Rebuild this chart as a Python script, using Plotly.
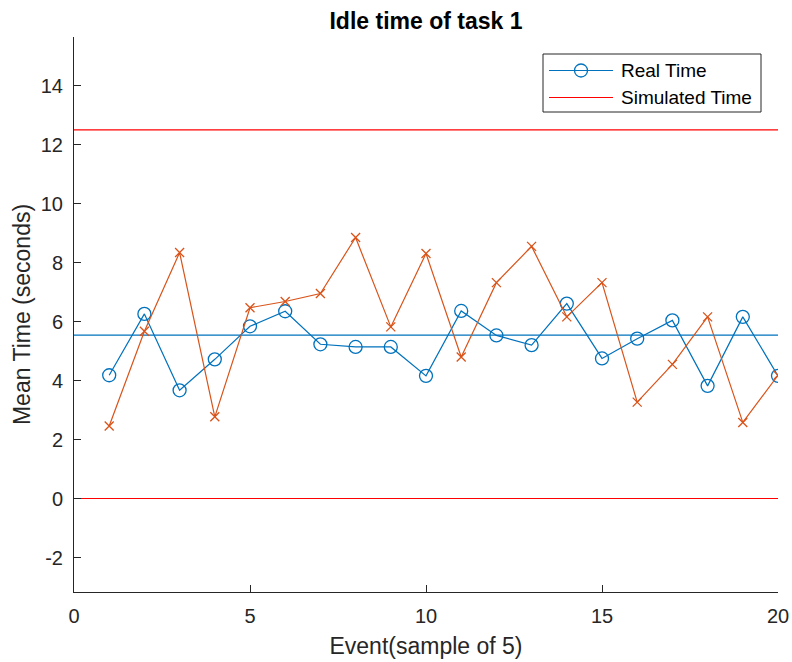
import plotly.graph_objects as go

# Event index (each event is a sample of 5)
events = list(range(1, 21))

# Mean idle time per event, measured
real_time = [4.18, 6.26, 3.67, 4.72, 5.84, 6.35, 5.23, 5.14, 5.14, 4.16,
             6.36, 5.53, 5.20, 6.61, 4.75, 5.42, 6.04, 3.82, 6.16, 4.16]

# Mean idle time per event, simulated
simulated_time = [2.46, 5.67, 8.34, 2.77, 6.47, 6.68, 6.95, 8.85, 5.82, 8.31,
                  4.80, 7.32, 8.55, 6.16, 7.32, 3.27, 4.55, 6.16, 2.58, 4.18]

# Reference lines across the whole event span
x_span = [0, 20]
center_line = 5.54
upper_limit = 12.5
lower_limit = 0.0

x_ticks = [0, 5, 10, 15, 20]
y_ticks = [-2, 0, 2, 4, 6, 8, 10, 12, 14]

legend_labels = ["Real Time", "Simulated Time"]

BLUE = "#0072BD"
ORANGE = "#D95319"
RED = "#FF0000"
AXIS = "#262626"
FONT = "Liberation Sans, Arial, sans-serif"

# Plot area in pixels (fixed margins)
W, H = 792, 662
ML, MR, MT, MB = 74, 14, 37, 70
PW, PH = W - ML - MR, H - MT - MB


def px_to_paper_x(px):
    return (px - ML) / PW


def px_to_paper_y(py):
    return (H - MB - py) / PH


fig = go.Figure()

fig.add_trace(go.Scatter(
    x=events, y=real_time, mode="lines+markers", name=legend_labels[0],
    showlegend=False,
    line=dict(color=BLUE, width=1.2),
    marker=dict(symbol="circle-open", size=13, color=BLUE, line=dict(width=1.3)),
))

fig.add_trace(go.Scatter(
    x=x_span, y=[center_line, center_line], mode="lines", showlegend=False,
    line=dict(color=BLUE, width=1.2),
))

fig.add_trace(go.Scatter(
    x=events, y=simulated_time, mode="lines+markers", showlegend=False,
    line=dict(color=ORANGE, width=1.2),
    marker=dict(symbol="x-thin-open", size=9, color=ORANGE, line=dict(width=1.3, color=ORANGE)),
))

fig.add_trace(go.Scatter(
    x=x_span + [None] + x_span,
    y=[upper_limit, upper_limit, None, lower_limit, lower_limit],
    mode="lines", name=legend_labels[1], showlegend=False,
    line=dict(color=RED, width=1.2),
))

# Legend box drawn in the upper right corner of the axes
box_l, box_r, box_t, box_b = 543, 761, 54, 112
row_y = [70.5, 97.5]
line_l, line_r = 549, 613
text_x = 619

shapes = [
    dict(type="rect", xref="paper", yref="paper",
         x0=px_to_paper_x(box_l), x1=px_to_paper_x(box_r),
         y0=px_to_paper_y(box_b), y1=px_to_paper_y(box_t),
         line=dict(color=AXIS, width=1), fillcolor="white", layer="above"),
    dict(type="line", xref="paper", yref="paper",
         x0=px_to_paper_x(line_l), x1=px_to_paper_x(line_r),
         y0=px_to_paper_y(row_y[0]), y1=px_to_paper_y(row_y[0]),
         line=dict(color=BLUE, width=1.2), layer="above"),
    dict(type="circle", xref="paper", yref="paper",
         xsizemode="pixel", ysizemode="pixel",
         xanchor=px_to_paper_x((line_l + line_r) / 2),
         yanchor=px_to_paper_y(row_y[0]),
         x0=-6.5, x1=6.5, y0=-6.5, y1=6.5,
         line=dict(color=BLUE, width=1.3), fillcolor="rgba(0,0,0,0)", layer="above"),
    dict(type="line", xref="paper", yref="paper",
         x0=px_to_paper_x(line_l), x1=px_to_paper_x(line_r),
         y0=px_to_paper_y(row_y[1]), y1=px_to_paper_y(row_y[1]),
         line=dict(color=RED, width=1.2), layer="above"),
]

annotations = [
    dict(text=label, xref="paper", yref="paper",
         x=px_to_paper_x(text_x), y=px_to_paper_y(ry),
         xanchor="left", yanchor="middle", showarrow=False,
         font=dict(size=19, color="black", family=FONT))
    for label, ry in zip(legend_labels, row_y)
]

fig.update_layout(
    width=W, height=H,
    margin=dict(l=ML, r=MR, t=MT, b=MB),
    paper_bgcolor="white", plot_bgcolor="white",
    font=dict(family=FONT, color=AXIS),
    showlegend=False,
    title=dict(
        text="Idle time of task 1",
        font=dict(size=23, weight="bold", color="black", family=FONT),
        x=(ML + W - MR) / 2 / W, xanchor="center",
        y=1 - 21 / H, yanchor="middle",
    ),
    shapes=shapes,
    annotations=annotations,
)

fig.update_xaxes(
    range=[0, 20], tickvals=x_ticks, ticktext=[str(v) for v in x_ticks],
    showgrid=False, zeroline=False, automargin=False,
    showline=True, linecolor=AXIS, linewidth=1,
    ticks="inside", ticklen=7, tickcolor=AXIS, tickwidth=1,
    tickfont=dict(size=20, color=AXIS),
    ticklabelstandoff=6,
    title=dict(text="Event(sample of 5)", font=dict(size=23, color=AXIS), standoff=11),
)

fig.update_yaxes(
    range=[-3.17, 15.65], tickvals=y_ticks, ticktext=[str(v) for v in y_ticks],
    showgrid=False, zeroline=False, automargin=False,
    showline=True, linecolor=AXIS, linewidth=1,
    ticks="inside", ticklen=7, tickcolor=AXIS, tickwidth=1,
    tickfont=dict(size=20, color=AXIS),
    ticklabelstandoff=6,
    title=dict(text="Mean Time (seconds)", font=dict(size=23, color=AXIS), standoff=3),
)

fig.write_html("out.html")
